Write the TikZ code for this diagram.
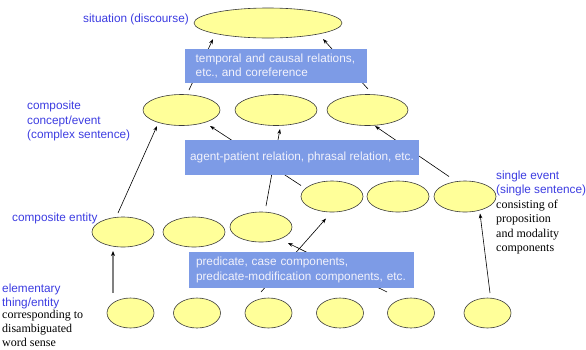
\documentclass[tikz,border=0pt]{standalone}
\usepackage{fontspec}
\setmainfont{Liberation Serif}
\setsansfont{Liberation Sans}
\usetikzlibrary{shapes.geometric,arrows.meta}
\definecolor{lvlblue}{RGB}{60,60,225}
\definecolor{boxfill}{RGB}{125,155,230}
\definecolor{boxtext}{RGB}{242,242,252}
\definecolor{unitfill}{RGB}{255,255,153}
\definecolor{unitedge}{RGB}{60,60,60}
\definecolor{linkgray}{RGB}{128,128,128}
\begin{document}
\begin{tikzpicture}[x=1pt,y=-1pt,
  unit/.style={ellipse,draw=unitedge,fill=unitfill,line width=0.6pt,inner sep=0pt},
  big/.style={unit,minimum width=62pt,minimum height=30pt},
  small/.style={unit,minimum width=47pt,minimum height=30pt},
  relbox/.style={rectangle,fill=boxfill,text=boxtext,
    font=\sffamily\fontsize{11.8}{14.3}\selectfont,align=left,inner ysep=0pt},
  lvl/.style={text=lvlblue,font=\sffamily\fontsize{11.8}{14.3}\selectfont,
    inner sep=0pt,align=left},
  note/.style={text=black,font=\rmfamily\fontsize{12}{14.3}\selectfont,
    inner sep=0pt,align=left},
  link/.style={-{Stealth[length=5pt,width=3.6pt]},line width=0.6pt},
  graylink/.style={-{Stealth[length=5pt,width=4pt,black]},draw=linkgray,line width=1.4pt}
]
\useasboundingbox (0,0) rectangle (586,349);

% discourse level
\node[unit,minimum width=148pt,minimum height=30pt] (sit) at (268,23) {};

% complex sentences
\node[unit,minimum width=77pt,minimum height=31pt] (e1) at (181.5,110) {};
\node[unit,minimum width=82pt,minimum height=31pt] (e2) at (276,110) {};
\node[unit,minimum width=81pt,minimum height=31pt] (e3) at (367.5,110) {};

% composite entities
\node[big] (a1) at (123,232) {};
\node[big] (a2) at (194,232) {};
\node[big] (a3) at (261,227) {};

% single events
\node[big,minimum height=31pt] (b1) at (332,196.5) {};
\node[big,minimum height=31pt] (b2) at (398,196.5) {};
\node[big,minimum height=31pt] (b3) at (465,196.5) {};

% elementary entities
\node[small] (c1) at (130.5,313) {};
\node[small] (c2) at (197,313) {};
\node[small] (c3) at (268.5,313) {};
\node[small] (c4) at (340,313) {};
\node[small] (c5) at (411,313) {};
\node[small] (c6) at (487.5,313) {};

% composition links
\draw[link] ([shift={(7.5,-20)}]e1.center) -- ([shift={(-55,16)}]sit.center);
\draw[link] ([shift={(0.5,-21)}]e3.center) -- ([shift={(55,16)}]sit.center);
\draw[link] ([shift={(-5,-19)}]a1.center) -- ([shift={(-24.5,16)}]e1.center);
\draw[link] ([shift={(-31,-11)}]b1.center) -- ([shift={(28.5,16)}]e1.center);
\draw[link] ([shift={(5,-21)}]a3.center) -- ([shift={(4,19)}]e2.center);
\draw[link] ([shift={(-16,-20)}]b3.center) -- ([shift={(7.5,16)}]e3.center);
\draw[graylink] ([shift={(-17.5,-20)}]c1.center) -- ([shift={(-10,19)}]a1.center);
\draw[link] ([shift={(-24,-21)}]c5.center) -- ([shift={(27,16)}]a3.center);
\draw[link] ([shift={(-7.5,-21)}]c3.center) -- ([shift={(-6,22)}]b1.center);
\draw[link] ([shift={(2.5,-20)}]c6.center) -- ([shift={(15,17)}]b3.center);

% relation boxes
\node[relbox,minimum width=182pt,minimum height=34pt,text width=160.6pt,inner xsep=10.7pt]
  (rel1) at (276,66) {temporal and causal relations,\\etc., and coreference};
\node[relbox,minimum width=234pt,minimum height=35pt,inner xsep=0pt]
  (rel2) at (302,157.5) {agent-patient relation, phrasal relation, etc.};
\node[relbox,minimum width=225pt,minimum height=36pt,text width=211pt,inner xsep=7pt]
  (rel3) at (301.5,270) {predicate, case components,\\predicate-modification components, etc.};

% level labels
\node[lvl,anchor=base west] (sitlbl) at (83,22) {situation (discourse)};
\node[lvl,anchor=north west] (conclbl) at (27,99.5)
  {\strut composite\\concept/event\\(complex sentence)};
\node[lvl,anchor=base west] (entlbl) at (12,221) {composite entity};
\node[lvl,anchor=north west] (elemlbl) at (2,282) {\strut elementary\\thing/entity};
\node[note,font=\rmfamily\fontsize{12}{13.8}\selectfont,anchor=north west] (elemnote) at (2,308.8)
  {\strut corresponding to\\disambiguated\\word sense};
\node[lvl,anchor=north west] (evlbl) at (496,169.3) {\strut single event\\(single sentence)};
\node[note,anchor=north west] (evnote) at (496,198.3)
  {\strut consisting of\\proposition\\and modality\\components};
\end{tikzpicture}
\end{document}
